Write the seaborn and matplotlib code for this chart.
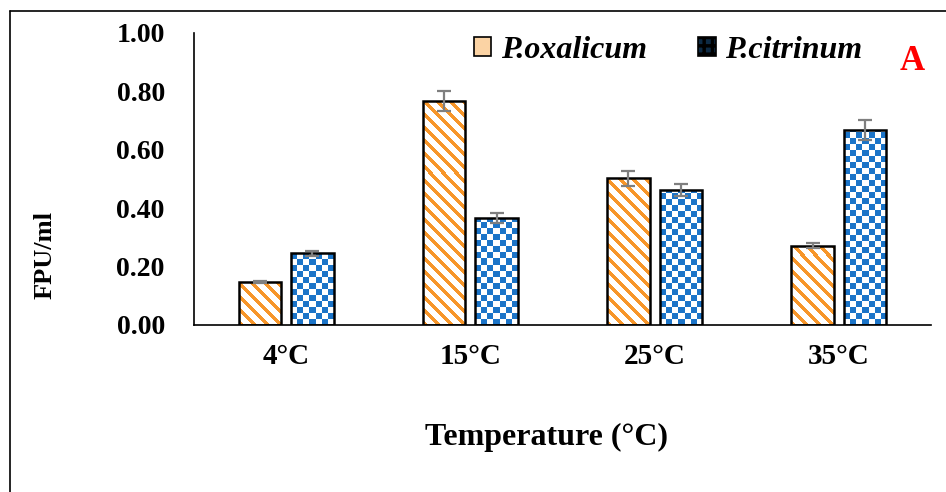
import numpy as np
import pandas as pd
import matplotlib
matplotlib.use("Agg")
import matplotlib.pyplot as plt
import seaborn as sns
from matplotlib.colors import ListedColormap
from matplotlib.patches import Rectangle, Patch
from matplotlib.lines import Line2D

# ---- data ----
temps = ["4°C", "15°C", "25°C", "35°C"]
oxalicum = [0.147, 0.768, 0.502, 0.272]
citrinum = [0.245, 0.367, 0.462, 0.668]
oxalicum_err = [0.003, 0.035, 0.025, 0.010]
citrinum_err = [0.010, 0.017, 0.020, 0.035]
species = ["P.oxalicum", "P.citrinum"]
y_ticks = [0.0, 0.2, 0.4, 0.6, 0.8, 1.0]

ORANGE = "#f7962a"
BLUE = "#1b74c8"

df = pd.DataFrame({
    "temp": temps * 2,
    "species": [species[0]] * 4 + [species[1]] * 4,
    "fpu": oxalicum + citrinum,
})

sns.set_style("ticks")
plt.rcParams["font.family"] = ["Liberation Serif", "DejaVu Serif"]
plt.rcParams["font.weight"] = "bold"
plt.rcParams["text.color"] = "black"
plt.rcParams["axes.labelcolor"] = "black"
plt.rcParams["xtick.color"] = "black"
plt.rcParams["ytick.color"] = "black"
plt.rcParams["hatch.linewidth"] = 2.5

fig = plt.figure(figsize=(9.46, 4.92), dpi=100)
ax = fig.add_axes([194 / 946, 1 - 325 / 492, 737 / 946, 292 / 492])

sns.barplot(data=df, x="temp", y="fpu", hue="species", order=temps,
            hue_order=species, palette=["white", "white"], width=0.57,
            gap=0.19, errorbar=None, legend=False, ax=ax,
            edgecolor="none", linewidth=0)

ax.set_xlim(-0.5, 3.5)
ax.set_ylim(0, 1.0)

px_per_x = 737 / 4.0
px_per_y = 292 / 1.0


def fill_pattern(bar, kind, color):
    """Fill a bar with a pixel pattern (diagonal stripes or checkerboard)."""
    x0, y0 = bar.get_x(), bar.get_y()
    w, h = bar.get_width(), bar.get_height()
    if kind == "stripes":
        unit = 1.0
        nx = max(1, int(round(w * px_per_x)))
        ny = max(1, int(np.ceil(h * px_per_y)))
        ii, jj = np.indices((ny, nx))
        board = (((ii + jj) % 13) < 5).astype(float)
    else:
        unit = 6.0
        nx = max(1, int(round(w * px_per_x / unit)))
        ny = max(1, int(np.ceil(h * px_per_y / unit)))
        ii, jj = np.indices((ny, nx))
        board = ((ii + jj) % 2).astype(float)
    im = ax.imshow(board, cmap=ListedColormap(["white", color]), vmin=0,
                   vmax=1, origin="lower",
                   extent=(x0, x0 + w, y0, y0 + ny * unit / px_per_y),
                   aspect="auto", interpolation="nearest", zorder=2)
    im.set_clip_path(bar)


for bar in ax.containers[0]:
    bar.set_facecolor("white")
    fill_pattern(bar, "stripes", ORANGE)
for bar in ax.containers[1]:
    bar.set_facecolor("white")
    fill_pattern(bar, "checker", BLUE)

# black outlines
for cont in ax.containers:
    for bar in cont:
        ax.add_patch(Rectangle((bar.get_x(), bar.get_y()), bar.get_width(),
                               bar.get_height(), facecolor="none",
                               edgecolor="black", linewidth=1.8, zorder=3))

ax.set_xlim(-0.5, 3.5)
ax.set_ylim(0, 1.0)

# error bars
for cont, vals, errs in zip(ax.containers[:2], [oxalicum, citrinum],
                            [oxalicum_err, citrinum_err]):
    xs = [b.get_x() + b.get_width() / 2 for b in cont]
    ax.errorbar(xs, vals, yerr=errs, fmt="none", ecolor="#7f7f7f",
                elinewidth=1.6, capsize=5, capthick=1.6, zorder=4)

ax.set_yticks(y_ticks)
ax.set_yticklabels([f"{v:.2f}" for v in y_ticks])
ax.tick_params(axis="y", length=0, pad=21, labelsize=20, labelcolor="black")
ax.tick_params(axis="x", length=0, pad=13, labelsize=21, labelcolor="black")
for lab in ax.get_xticklabels() + ax.get_yticklabels():
    lab.set_fontweight("bold")

sns.despine(ax=ax)
for s in ["left", "bottom"]:
    ax.spines[s].set_color("black")
    ax.spines[s].set_linewidth(1.2)

ax.set_xlabel("Temperature (°C)", fontsize=23, fontweight="bold", color="black")
ax.set_ylabel("FPU/ml", fontsize=19, fontweight="bold", color="black")
ax.xaxis.set_label_coords((546 - 194) / 737, (325 - 437) / 292)
ax.xaxis.label.set_va("center")
ax.yaxis.set_label_coords((45 - 194) / 737, (325 - 255) / 292)
ax.yaxis.label.set_va("center")

# legend
handles = [Patch(facecolor="#fbd3a4", edgecolor="black", linewidth=1.2),
           Patch(facecolor="#0d2a44", edgecolor="black", hatch="++",
                 linewidth=1.2)]
leg = ax.legend(handles, species, loc="center", ncol=2, frameon=False,
                bbox_to_anchor=((668 - 194) / 737, (325 - 50) / 292),
                prop={"family": "Liberation Serif", "weight": "bold",
                      "style": "italic", "size": 23},
                handlelength=0.55, handleheight=0.55, handletextpad=0.3,
                columnspacing=1.6)
for t in leg.get_texts():
    t.set_color("black")

fig.text(912 / 946, 1 - 62 / 492, "A", color="red", fontsize=25,
         fontweight="bold", ha="center", va="center",
         family="Liberation Serif")

# outer frame
fig.add_artist(Line2D([10 / 946, 1], [1 - 11 / 492, 1 - 11 / 492],
                      color="black", linewidth=1.2))
fig.add_artist(Line2D([10 / 946, 10 / 946], [0, 1 - 11 / 492],
                      color="black", linewidth=1.2))

fig.savefig("out.png", dpi=100, facecolor="white")
